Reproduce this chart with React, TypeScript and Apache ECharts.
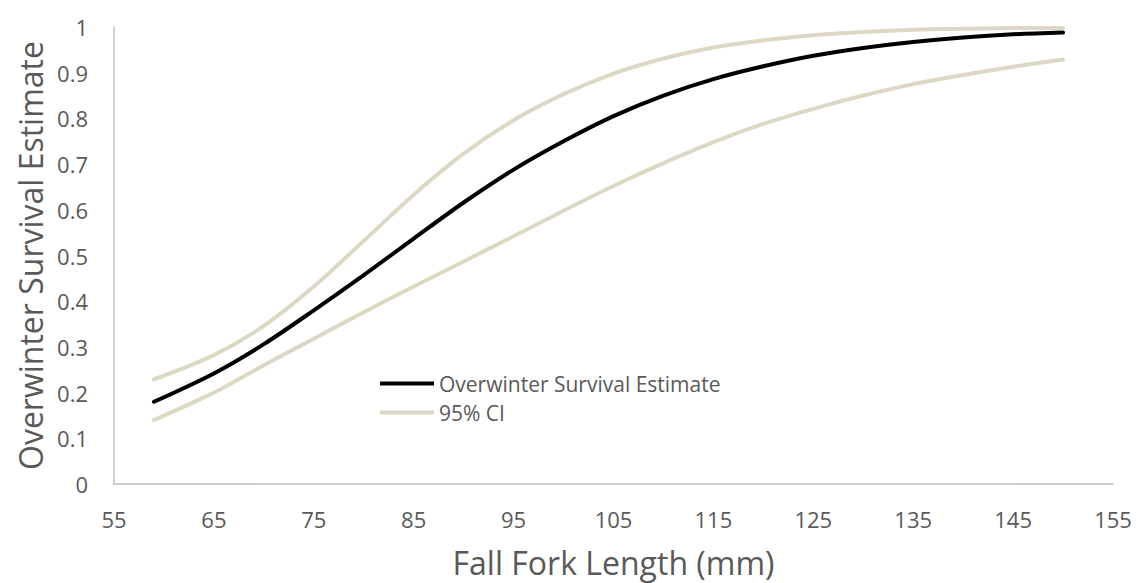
import React, { useEffect, useRef } from "react";
import * as echarts from "echarts";

const forkLength = [59, 65, 70, 75, 80, 85, 90, 95, 100, 105, 110, 115, 120, 125, 130, 135, 140, 145, 150];
const survival = [0.18, 0.242, 0.306, 0.38, 0.457, 0.537, 0.616, 0.688, 0.75, 0.805, 0.85, 0.886, 0.914, 0.937, 0.954, 0.967, 0.977, 0.984, 0.988];
const ciUpper = [0.229, 0.282, 0.346, 0.432, 0.532, 0.633, 0.723, 0.796, 0.853, 0.898, 0.931, 0.955, 0.971, 0.982, 0.989, 0.994, 0.996, 0.998, 0.998];
const ciLower = [0.14, 0.2, 0.26, 0.318, 0.376, 0.432, 0.487, 0.542, 0.598, 0.652, 0.702, 0.748, 0.788, 0.821, 0.85, 0.875, 0.895, 0.913, 0.929];

const FONT = "'Open Sans', sans-serif";
const CI_COLOR = "#ddd8c3";
const TEXT_COLOR = "#595959";

export default function App() {
  const ref = useRef<HTMLDivElement>(null);
  useEffect(() => {
    if (!ref.current) return;
    const chart = echarts.init(ref.current, undefined, { renderer: "svg" });
    const pair = (ys: number[]) => forkLength.map((x, i) => [x, ys[i]]);
    const lineSeries = (name: string, ys: number[], color: string, z: number) => ({
      name,
      type: "line",
      data: pair(ys),
      smooth: 0.3,
      showSymbol: false,
      z,
      lineStyle: { color, width: 4, cap: "round" },
      itemStyle: { color },
    });
    chart.setOption({
      animation: false,
      backgroundColor: "#ffffff",
      textStyle: { fontFamily: FONT },
      grid: { left: 114, right: 25, top: 27, bottom: 99 },
      legend: {
        orient: "vertical",
        left: 380,
        top: 373,
        padding: 0,
        itemWidth: 54,
        itemHeight: 4,
        itemGap: 8,
        icon: "rect",
        textStyle: { fontFamily: FONT, fontSize: 21, color: TEXT_COLOR },
        data: ["Overwinter Survival Estimate", "95% CI"],
      },
      xAxis: {
        type: "value",
        min: 55,
        max: 155,
        interval: 10,
        name: "Fall Fork Length (mm)",
        nameLocation: "middle",
        nameGap: 62,
        nameTextStyle: { fontFamily: FONT, fontSize: 32, color: TEXT_COLOR },
        axisLine: { show: true, lineStyle: { color: "#bfbfbf", width: 1.5 } },
        axisTick: { show: false },
        splitLine: { show: false },
        axisLabel: { fontFamily: FONT, fontSize: 22, color: TEXT_COLOR, margin: 24 },
      },
      yAxis: {
        type: "value",
        min: 0,
        max: 1,
        interval: 0.1,
        name: "Overwinter Survival Estimate",
        nameLocation: "middle",
        nameGap: 65,
        nameTextStyle: { fontFamily: FONT, fontSize: 32, color: TEXT_COLOR },
        axisLine: { show: true, lineStyle: { color: "#bfbfbf", width: 1.5 } },
        axisTick: { show: false },
        splitLine: { show: false },
        axisLabel: { fontFamily: FONT, fontSize: 22, color: TEXT_COLOR, margin: 26 },
      },
      series: [
        lineSeries("Overwinter Survival Estimate", survival, "#000000", 3),
        lineSeries("95% CI", ciUpper, CI_COLOR, 2),
        lineSeries("95% CI", ciLower, CI_COLOR, 2),
      ],
    });
    return () => chart.dispose();
  }, []);
  return <div ref={ref} style={{ width: 1138, height: 583, position: "absolute", left: 0, top: 0 }} />;
}
